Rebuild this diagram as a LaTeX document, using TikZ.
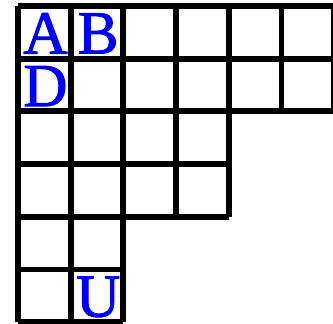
\documentclass[tikz,border=0pt]{standalone}
\usepackage{fontspec}
\newfontfamily\tabfont[FakeBold=1.6]{Liberation Serif}
\usetikzlibrary{positioning}
\tikzset{
  gridline/.style={line width=3.2pt,line cap=butt,black},
  entry/.style={text=blue,inner sep=0pt,font=\tabfont\fontsize{33}{33}\selectfont}
}
\begin{document}
\begin{tikzpicture}[x=1cm,y=-1cm]
  % Frame of the picture (the diagram runs off on the right).
  \useasboundingbox (-0.342,-0.114) rectangle (5.977,6.034);
  \clip (-0.342,-0.114) rectangle (5.977,6.034);

  % Horizontal rules: row index / length.
  \foreach \r/\len in {0/7,1/7,2/7,3/4,4/4,5/2,6/2}
    \draw[gridline] (0,\r) -- (\len,\r);

  % Vertical rules: column index / depth.
  \foreach \c/\dep in {0/6,1/6,2/6,3/4,4/4,5/2,6/2,7/2}
    \draw[gridline] (\c,0) -- (\c,\dep);

  % Filled boxes.
  \node[entry] (a) at (0.52,0.52) {A};
  \node[entry] (b) at (1.52,0.52) {B};
  \node[entry] (d) at (0.52,1.52) {D};
  \node[entry] (u) at (1.52,5.52) {U};
\end{tikzpicture}
\end{document}
